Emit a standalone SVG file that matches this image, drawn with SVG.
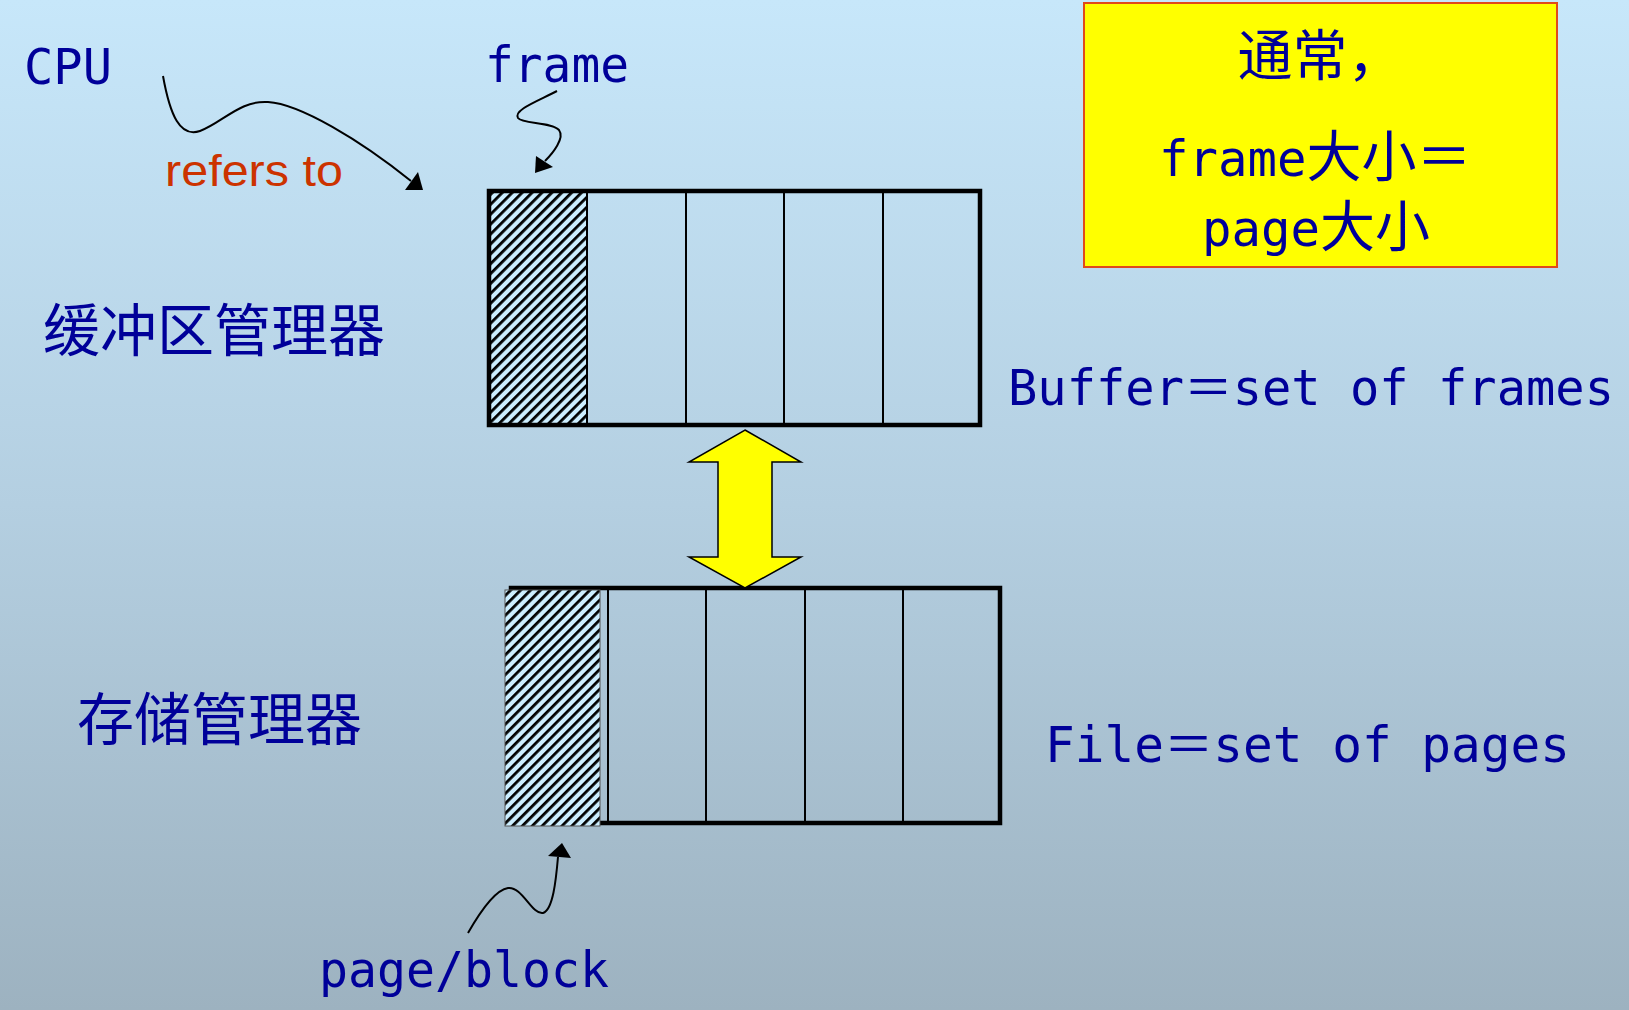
<svg xmlns="http://www.w3.org/2000/svg" width="1629" height="1010" viewBox="0 0 1629 1010">
<defs>
<linearGradient id="bg" x1="0" y1="0" x2="0" y2="1">
<stop offset="0" stop-color="#C7E7FA"/>
<stop offset="0.5" stop-color="#B4CFE1"/>
<stop offset="1" stop-color="#9DB2C0"/>
</linearGradient>
<pattern id="hatch" width="7" height="7" patternUnits="userSpaceOnUse" patternTransform="rotate(45)">
<rect width="7" height="7" fill="#CCEEFF"/>
<line x1="1.4" y1="0" x2="1.4" y2="7" stroke="#000" stroke-width="2.8"/>
</pattern>
</defs>
<style>
.mono{font-family:"DejaVu Sans Mono","Noto Sans CJK SC",monospace;font-size:49px;fill:#000099}
.cjk{font-family:"Noto Sans CJK SC",sans-serif;font-size:57px;fill:#000099}
.box{font-family:"Noto Sans CJK SC",sans-serif;font-size:55px;fill:#000099}
.red{font-family:"Liberation Sans",Arial,sans-serif;font-size:44px;fill:#CC3300}
.curve{fill:none;stroke:#000;stroke-width:2}
.outer{fill:none;stroke:#000;stroke-width:4.5}
.div{stroke:#000;stroke-width:2}
</style>
<rect x="0" y="0" width="1629" height="1010" fill="url(#bg)"/>

<g id="cpu"><text class="mono" x="24" y="84" textLength="88" lengthAdjust="spacingAndGlyphs">CPU</text></g>
<g id="refers-label"><text class="red" x="165" y="186" textLength="178" lengthAdjust="spacingAndGlyphs">refers to</text></g>
<g id="frame-label"><text class="mono" x="485" y="82" textLength="144" lengthAdjust="spacingAndGlyphs">frame</text></g>
<g id="buffer-manager"><text class="cjk" x="43" y="351">缓冲区管理器</text></g>
<g id="storage-manager"><text class="cjk" x="77" y="740">存储管理器</text></g>
<g id="buffer-label"><text class="mono" x="1008" y="405" textLength="606" lengthAdjust="spacingAndGlyphs">Buffer＝set of frames</text></g>
<g id="file-label"><text class="mono" x="1045" y="762" textLength="525" lengthAdjust="spacingAndGlyphs">File＝set of pages</text></g>
<g id="page-label"><text class="mono" x="319" y="987" textLength="290" lengthAdjust="spacingAndGlyphs">page/block</text></g>

<g id="note">
<rect x="1084" y="3" width="473" height="264" fill="#FFFF00" stroke="#E04A1A" stroke-width="2"/>
<text class="box" x="1320" y="75" text-anchor="middle">通常，</text>
<text class="mono" x="1159" y="176">frame<tspan style="font-family:'Noto Sans CJK SC',sans-serif;font-size:55px">大小＝</tspan></text>
<text class="mono" x="1202" y="246">page<tspan style="font-family:'Noto Sans CJK SC',sans-serif;font-size:55px">大小</tspan></text>
</g>

<g id="buffer">
<rect x="487" y="190" width="99" height="236" fill="url(#hatch)"/>
<line class="div" x1="587" y1="190" x2="587" y2="426"/>
<line class="div" x1="686" y1="190" x2="686" y2="426"/>
<line class="div" x1="784" y1="190" x2="784" y2="426"/>
<line class="div" x1="883" y1="190" x2="883" y2="426"/>
<rect class="outer" x="489" y="191" width="491" height="234"/>
</g>

<g id="file">
<line class="div" x1="608" y1="588" x2="608" y2="824"/>
<line class="div" x1="706" y1="588" x2="706" y2="824"/>
<line class="div" x1="805" y1="588" x2="805" y2="824"/>
<line class="div" x1="903" y1="588" x2="903" y2="824"/>
<rect class="outer" x="511" y="588" width="489" height="235"/>
<rect x="505" y="590" width="95" height="236" fill="url(#hatch)" stroke="#555" stroke-width="1"/>
</g>

<g id="connectors">
<path class="curve" d="M163,76 C170,115 180,138 200,131 C222,123 240,100 268,102 C300,104 360,140 411,181"/>
<polygon points="423,190 405,190 418,172" fill="#000"/>
<path class="curve" d="M557,91 C538,101 513,110 518,118 C522,124 552,122 559,130 C565,138 553,153 545,161"/>
<polygon points="535,173 536,156 553,167" fill="#000"/>
<path class="curve" d="M468,933 C480,912 495,890 508,888 C522,886 532,915 543,913 C553,910 556,880 558,857"/>
<polygon points="562,843 548,856 571,858" fill="#000"/>
<polygon points="745,430 801,462 772,462 772,557 801,557 745,588 689,557 718,557 718,462 689,462" fill="#FFFF00" stroke="#000" stroke-width="1.5"/>
</g>
</svg>
